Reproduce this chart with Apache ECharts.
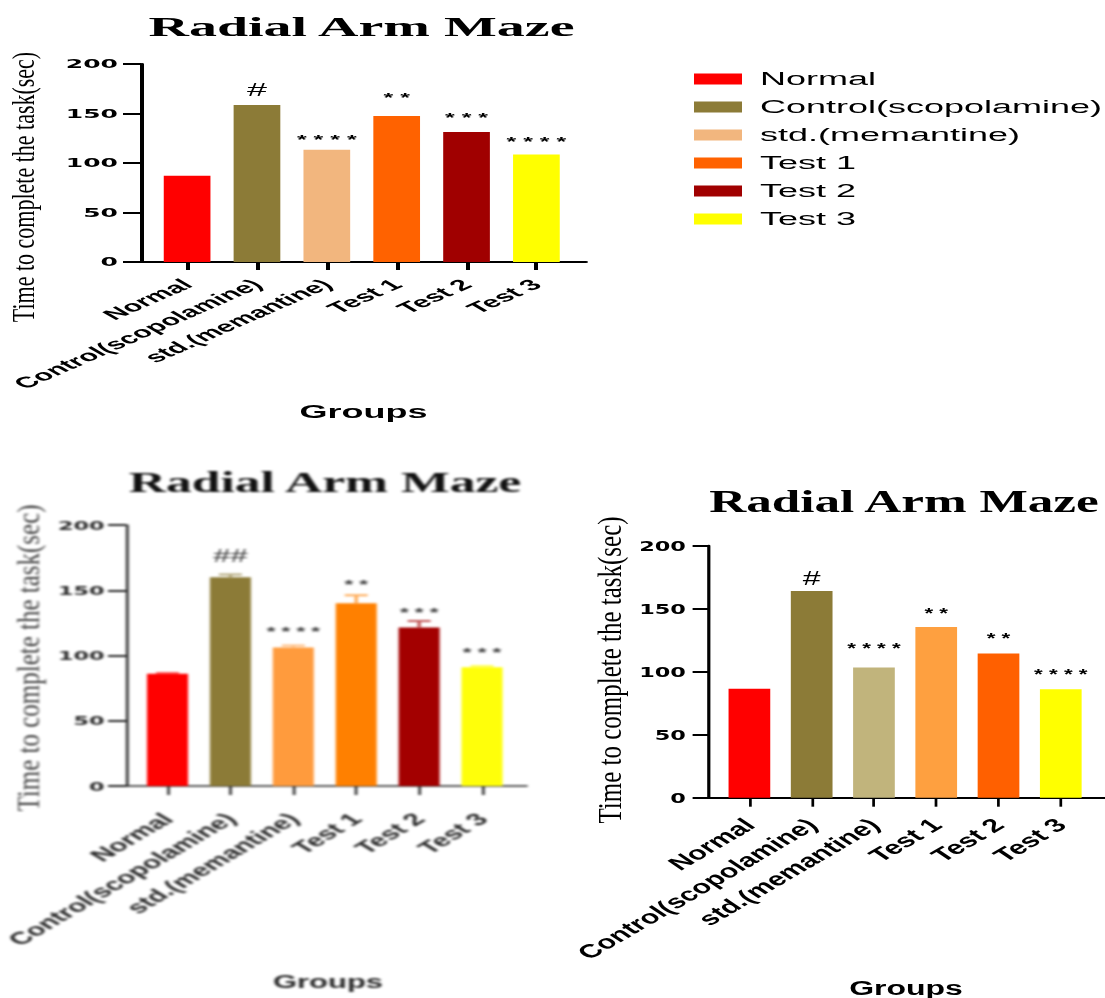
<!DOCTYPE html>
<html>
<head>
<meta charset="utf-8">
<title>Radial Arm Maze</title>
<script src="https://cdn.jsdelivr.net/npm/echarts@6/dist/echarts.min.js"></script>
<style>
  html, body { margin: 0; padding: 0; background: #fff; }
  body { width: 1105px; height: 998px; position: relative; overflow: hidden; }
  .panel { position: absolute; transform-origin: 0 0; }
</style>
</head>
<body>
<div id="p1" class="panel"></div>
<div id="p2" class="panel"></div>
<div id="p3" class="panel"></div>
<script>
// ---- data ----
const groups = ['Normal', 'Control(scopolamine)', 'std.(memantine)', 'Test 1', 'Test 2', 'Test 3'];
const yTicks = [0, 50, 100, 150, 200];

// top chart: time to complete the task (sec)
const timeTop = [87.2, 158.5, 113.3, 147.4, 131.3, 108.5];
const signifTop = ['', '#', '****', '**', '***', '****'];

// lower-left chart (mean and SEM)
const timeLeft = [86, 160, 106.2, 140.1, 121.4, 91];
const semLeft = [0.5, 2, 1.5, 6, 5, 1];
const signifLeft = ['', '##', '****', '**', '***', '***'];

// lower-right chart
const timeRight = [86.5, 164, 103.3, 135.5, 114.5, 86];
const signifRight = ['', '#', '****', '**', '**', '****'];

// ---- styling ----
const colorsTop = ['#FF0000', '#8C7B37', '#F2B67E', '#FF6200', '#A00000', '#FFFF00'];
const colorsLeft = ['#FF0000', '#8C7B37', '#FF9B3D', '#FF8000', '#A30000', '#FFFF0A'];
const colorsRight = ['#FF0000', '#8C7B37', '#C1B47C', '#FEA040', '#FF6000', '#FFFF00'];

function markText(m) {
  return m.charAt(0) === '*' ? m.split('').join(' ') : m;
}

// lighten a #RRGGBB colour towards white
function tint(hex, t) {
  const n = parseInt(hex.slice(1), 16);
  const ch = [(n >> 16) & 255, (n >> 8) & 255, n & 255].map(c => Math.round(c + (255 - c) * t));
  return 'rgb(' + ch.join(',') + ')';
}

// Each panel is laid out in page pixels, drawn in an unstretched frame
// and widened horizontally by `stretch`.
function drawPanel(cfg) {
  const k = cfg.stretch;
  const el = document.getElementById(cfg.id);
  const w = cfg.pageWidth / k;
  el.style.left = cfg.pageLeft + 'px';
  el.style.top = cfg.pageTop + 'px';
  el.style.width = w + 'px';
  el.style.height = cfg.height + 'px';
  el.style.transform = 'scaleX(' + k + ')';
  if (cfg.blur) el.style.filter = 'blur(' + cfg.blur + 'px)';

  const toX = px => (px - cfg.pageLeft) / k;
  const toY = py => py - cfg.pageTop;
  const gl = toX(cfg.axis.left), gr = toX(cfg.axis.right);
  const gt = toY(cfg.axis.top), gb = toY(cfg.axis.bottom);
  const ink = cfg.ink;
  const bw = cfg.barWidth / k;

  const chart = echarts.init(el, null, { renderer: 'svg', width: w, height: cfg.height });

  const series = groups.map((g, i) => ({
    name: g,
    type: 'bar',
    barWidth: bw,
    barGap: '-100%',
    itemStyle: { color: cfg.colors[i] },
    data: [[i, cfg.values[i]]],
    label: {
      show: cfg.marks[i] !== '',
      position: 'top',
      distance: cfg.lift[i],
      formatter: () => markText(cfg.marks[i]),
      color: cfg.markInk,
      fontFamily: 'Liberation Sans, Arial, sans-serif',
      fontWeight: cfg.marks[i].charAt(0) === '*' ? 'bold' : 'normal',
      fontSize: cfg.marks[i].charAt(0) === '#' ? cfg.hashSize : cfg.starSize
    }
  }));

  if (cfg.sem) {
    // upper error whiskers with caps, in a lighter shade of each bar
    series.push({
      type: 'custom',
      silent: true,
      z: 3,
      data: groups.map((g, i) => [i, cfg.values[i], cfg.values[i] + cfg.sem[i]]),
      renderItem: (params, api) => {
        const i = params.dataIndex;
        const base = api.coord([api.value(0), api.value(1)]);
        const top = api.coord([api.value(0), api.value(2)]);
        const half = bw * 0.28;
        const style = { stroke: tint(cfg.colors[i], 0.35), lineWidth: 2 };
        return {
          type: 'group',
          children: [
            { type: 'line', shape: { x1: base[0], y1: base[1], x2: top[0], y2: top[1] }, style: style },
            { type: 'line', shape: { x1: top[0] - half, y1: top[1], x2: top[0] + half, y2: top[1] }, style: style }
          ]
        };
      }
    });
  }

  const option = {
    animation: false,
    backgroundColor: 'transparent',
    grid: { left: gl, top: gt, width: gr - gl, height: gb - gt, containLabel: false, outerBoundsMode: 'none' },
    xAxis: {
      type: 'value',
      min: -0.66,
      max: 5.71,
      splitLine: { show: false },
      axisLine: { show: true, onZero: false, lineStyle: { color: ink, width: cfg.axisWidth } },
      axisTick: {
        show: true,
        customValues: groups.map((g, i) => i),
        length: cfg.xTickLen,
        lineStyle: { color: ink, width: cfg.xTickWidth }
      },
      axisLabel: {
        show: true,
        customValues: groups.map((g, i) => i),
        formatter: v => groups[Math.round(v)],
        rotate: cfg.xLabel.rotate,
        margin: cfg.xLabel.margin,
        color: ink,
        fontFamily: 'Liberation Sans, Arial, sans-serif',
        fontWeight: 'bold',
        fontSize: cfg.xLabel.size
      }
    },
    yAxis: {
      type: 'value',
      min: yTicks[0],
      max: yTicks[yTicks.length - 1],
      interval: yTicks[1] - yTicks[0],
      splitLine: { show: false },
      axisLine: { show: true, onZero: false, lineStyle: { color: ink, width: cfg.axisWidth } },
      axisTick: { show: true, length: cfg.yTickLen / k, lineStyle: { color: ink, width: cfg.yTickWidth } },
      axisLabel: {
        margin: (cfg.yTickLen + cfg.yLabel.gap) / k,
        color: ink,
        fontFamily: 'DejaVu Sans, sans-serif',
        fontWeight: 'bold',
        fontSize: cfg.yLabel.size
      }
    },
    legend: cfg.legend ? {
      orient: 'vertical',
      left: toX(cfg.legend.left),
      top: toY(cfg.legend.top),
      itemWidth: cfg.legend.swatch / k,
      itemHeight: 11,
      itemGap: 10,
      icon: 'rect',
      data: groups,
      textStyle: {
        color: '#000',
        fontFamily: 'Liberation Sans, Arial, sans-serif',
        fontSize: 18,
        padding: [0, 0, 0, 4]
      }
    } : { show: false },
    series: series,
    graphic: [
      {
        type: 'text',
        x: toX(cfg.title.x), y: toY(cfg.title.y),
        style: {
          text: 'Radial Arm Maze',
          fill: cfg.titleInk,
          font: 'bold ' + cfg.title.size + 'px "Liberation Serif", "Times New Roman", serif',
          align: 'center', verticalAlign: 'middle'
        }
      },
      {
        type: 'text',
        x: toX(cfg.yName.x), y: toY(cfg.yName.y),
        rotation: Math.PI / 2,
        scaleY: cfg.yName.squeeze,
        style: {
          text: 'Time to complete the task(sec)',
          fill: cfg.yNameInk,
          font: cfg.yName.size + 'px "Liberation Serif", "Times New Roman", serif',
          align: 'center', verticalAlign: 'middle'
        }
      },
      {
        type: 'text',
        x: toX(cfg.xName.x), y: toY(cfg.xName.y),
        style: {
          text: 'Groups',
          fill: ink,
          font: 'bold ' + cfg.xName.size + 'px "Liberation Sans", Arial, sans-serif',
          align: 'center', verticalAlign: 'middle'
        }
      }
    ]
  };
  chart.setOption(option);
}

// top panel with legend
drawPanel({
  id: 'p1', pageLeft: 0, pageTop: 0, pageWidth: 1105, height: 440, stretch: 2.0,
  axis: { left: 141, right: 586, top: 64, bottom: 262 },
  values: timeTop, marks: signifTop, colors: colorsTop,
  lift: [0, 6, 3.5, 12.5, 7.5, 6.5],
  barWidth: 46.7, axisWidth: 2, xTickLen: 8, xTickWidth: 2, yTickLen: 18, yTickWidth: 2,
  yLabel: { size: 12.5, gap: 5 },
  xLabel: { rotate: 41, size: 15.3, margin: 20 },
  title: { x: 361.5, y: 27, size: 28 },
  yName: { x: 24, y: 187, size: 22, squeeze: 0.72 },
  xName: { x: 363.5, y: 412, size: 18 },
  starSize: 12.5, hashSize: 18,
  ink: '#000', markInk: '#000', titleInk: '#000', yNameInk: '#000',
  legend: { left: 684, top: 65, swatch: 48 }
});

// lower-left panel
drawPanel({
  id: 'p2', pageLeft: 0, pageTop: 440, pageWidth: 560, height: 558, stretch: 1.72, blur: 0.9,
  axis: { left: 126, right: 526.7, top: 525, bottom: 786 },
  values: timeLeft, sem: semLeft, marks: signifLeft, colors: colorsLeft,
  lift: [0, 12.7, 10, 12.5, 8.5, 8.5],
  barWidth: 41, axisWidth: 1.6, xTickLen: 9, xTickWidth: 1.5, yTickLen: 18, yTickWidth: 2,
  yLabel: { size: 13, gap: 3.4 },
  xLabel: { rotate: 45, size: 17.3, margin: 30 },
  title: { x: 325, y: 482, size: 30 },
  yName: { x: 29, y: 658, size: 25, squeeze: 0.72 },
  xName: { x: 328, y: 982, size: 18 },
  starSize: 13, hashSize: 18,
  ink: '#2a2a2a', markInk: '#333', titleInk: '#111', yNameInk: '#444'
});

// lower-right panel
drawPanel({
  id: 'p3', pageLeft: 560, pageTop: 470, pageWidth: 545, height: 528, stretch: 1.6,
  axis: { left: 708.3, right: 1105, top: 545.7, bottom: 797.7 },
  values: timeRight, marks: signifRight, colors: colorsRight,
  lift: [0, 2.6, 12.8, 6.8, 8.8, 7.8],
  barWidth: 41.7, axisWidth: 2, xTickLen: 9, xTickWidth: 1.7, yTickLen: 15.7, yTickWidth: 2,
  yLabel: { size: 14, gap: 6.7 },
  xLabel: { rotate: 43, size: 19, margin: 24 },
  title: { x: 904, y: 501, size: 32 },
  yName: { x: 609.5, y: 670, size: 25, squeeze: 0.85 },
  xName: { x: 906, y: 988, size: 20 },
  starSize: 14, hashSize: 20,
  ink: '#000', markInk: '#000', titleInk: '#000', yNameInk: '#000'
});
</script>
</body>
</html>
